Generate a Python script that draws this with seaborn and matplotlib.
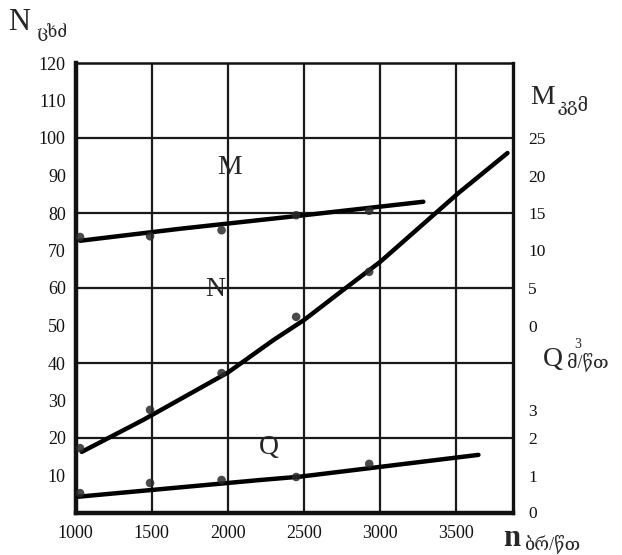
import matplotlib
matplotlib.use("Agg")
import matplotlib.pyplot as plt
import seaborn as sns
import pandas as pd

# Engine speed, rpm
n_points = [1030, 1490, 1960, 2450, 2930]

# Measured points
N_points = [17.3, 27.5, 37.3, 52.3, 64.3]          # power, hp
M_points = [11.8, 11.9, 12.7, 14.7, 15.3]          # torque, kgm
Q_points = [0.53, 0.80, 0.88, 0.96, 1.31]          # flow, m3/min

# Drawn characteristic curves
N_curve_n = [1041, 1444, 2003, 2300, 2503, 2750, 3003, 3516, 3839]
N_curve = [16.3, 24.8, 37.5, 46.1, 51.5, 59.2, 67.0, 85.3, 96.0]
M_curve_n = [1030, 1688, 2500, 3286]
M_curve = [11.3, 12.9, 14.7, 16.5]
Q_curve_n = [1020, 2214, 2477, 3648]
Q_curve = [0.435, 0.88, 0.97, 1.55]

# Axis tick labels
n_ticks = [1000, 1500, 2000, 2500, 3000, 3500]
N_ticks = [10, 20, 30, 40, 50, 60, 70, 80, 90, 100, 110, 120]
M_ticks = [0, 5, 10, 15, 20, 25]
Q_ticks = [0, 1, 2, 3]


def m_to_n(m):
    return 50 + 2 * m


def q_to_n(q):
    return 10 * q


sns.set_style("white")
plt.rcParams["font.family"] = ["Liberation Serif", "DejaVu Serif", "DejaVu Sans"]

W, H = 622, 555
fig = plt.figure(figsize=(W / 100, H / 100), dpi=100)
x0, x1, y_top, y_bot = 75.5, 513, 63, 513
ax = fig.add_axes([x0 / W, (H - y_bot) / H, (x1 - x0) / W, (y_bot - y_top) / H])

ax.set_xlim(1000, 3875)
ax.set_ylim(0, 120)

# grid
for v in [20, 40, 60, 80, 100]:
    ax.axhline(v, color="#1a1a1a", lw=1.6, zorder=1)
for v in [1500, 2000, 2500, 3000, 3500]:
    ax.axvline(v, color="#1a1a1a", lw=1.6, zorder=1)

# curves
curves = pd.concat([
    pd.DataFrame({"n": N_curve_n, "v": N_curve, "s": "N"}),
    pd.DataFrame({"n": M_curve_n, "v": [m_to_n(m) for m in M_curve], "s": "M"}),
    pd.DataFrame({"n": Q_curve_n, "v": [q_to_n(q) for q in Q_curve], "s": "Q"}),
])
sns.lineplot(data=curves, x="n", y="v", units="s", estimator=None, sort=False,
             color="black", lw=3.2, ax=ax, zorder=3, solid_capstyle="round",
             solid_joinstyle="round")

pts = pd.concat([
    pd.DataFrame({"n": n_points, "v": N_points}),
    pd.DataFrame({"n": n_points, "v": [m_to_n(m) for m in M_points]}),
    pd.DataFrame({"n": n_points, "v": [q_to_n(q) for q in Q_points]}),
])
sns.scatterplot(data=pts, x="n", y="v", color="#2a2a2a", s=38, alpha=0.85,
                edgecolor="none", ax=ax, zorder=4)

ax.set_xlabel("")
ax.set_ylabel("")

# spines
for side, lw in [("left", 3.2), ("bottom", 3.2), ("right", 2.4), ("top", 1.8)]:
    ax.spines[side].set_visible(True)
    ax.spines[side].set_linewidth(lw)
    ax.spines[side].set_color("#111111")

ax.set_xticks(n_ticks)
ax.set_xticklabels([str(t) for t in n_ticks])
ax.set_yticks(N_ticks)
ax.set_yticklabels([str(t) for t in N_ticks])
ax.tick_params(axis="both", length=0, labelsize=13, colors="#111111")
ax.tick_params(axis="y", pad=7)
ax.tick_params(axis="x", pad=9)

# right-side scales for M and Q
ax2 = ax.twinx()
ax2.set_ylim(0, 120)
right_pos = [m_to_n(m) for m in M_ticks] + [0.3, 10, 20, 27.5]
right_lab = [str(m) for m in M_ticks] + [str(q) for q in Q_ticks]
ax2.set_yticks(right_pos)
ax2.set_yticklabels(right_lab)
ax2.tick_params(axis="y", length=0, labelsize=12.5, pad=11, colors="#111111")
for s in ax2.spines.values():
    s.set_visible(False)

# curve names
ax.text(2015, 92, "M", fontsize=20, ha="center", va="center")
ax.text(1915, 59.5, "N", fontsize=20, ha="center", va="center")
ax.text(2270, 17.5, "Q", fontsize=20, ha="center", va="center")

# axis titles
fig.text(8 / W, 1 - 22 / H, "N", fontsize=22, va="center", ha="left")
fig.text(36 / W, 1 - 32 / H, "ცხძ", fontsize=12, va="center", ha="left")
fig.text(530 / W, 1 - 97 / H, "M", fontsize=20, va="center", ha="left")
fig.text(558 / W, 1 - 105 / H, "კგმ", fontsize=13, va="center", ha="left")
fig.text(543 / W, 1 - 360 / H, "Q", fontsize=20, va="center", ha="left")
fig.text(567 / W, 1 - 362 / H, "მ/წთ", fontsize=13, va="center", ha="left")
fig.text(574 / W, 1 - 344 / H, "3", fontsize=10, va="center", ha="left")
fig.text(503 / W, 1 - 538 / H, "n", fontsize=22, va="center", ha="left", weight="bold")
fig.text(524 / W, 1 - 544 / H, "ბრ/წთ", fontsize=13, va="center", ha="left")

fig.savefig("out.png", dpi=100)
